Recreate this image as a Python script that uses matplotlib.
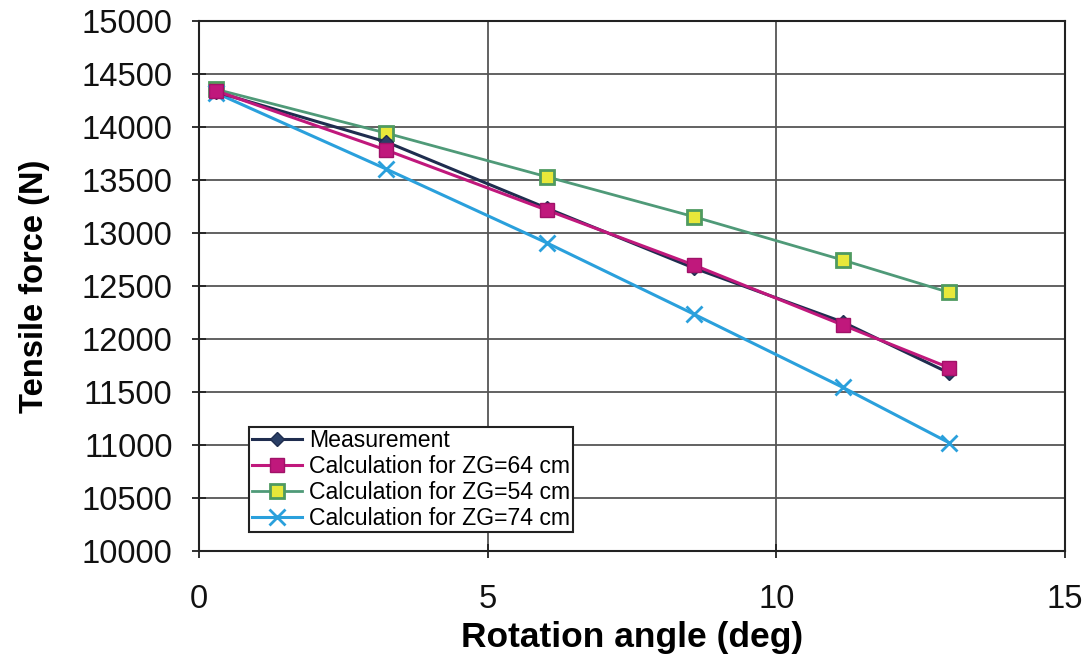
import matplotlib
matplotlib.use("Agg")
import matplotlib.pyplot as plt

# Rotation angle (deg) at each measuring step
angle = [0.30, 3.24, 6.02, 8.57, 11.15, 12.99]

# Tensile force (N)
measurement = [14330, 13860, 13235, 12670, 12160, 11680]
calc_zg64 = [14340, 13783, 13217, 12698, 12132, 11730]
calc_zg54 = [14355, 13943, 13531, 13154, 12745, 12440]
calc_zg74 = [14320, 13604, 12908, 12235, 11544, 11022]

x_ticks = [0, 5, 10, 15]
y_ticks = list(range(10000, 15001, 500))

plt.rcParams['font.family'] = ['Liberation Sans', 'DejaVu Sans']

fig = plt.figure(figsize=(10.88, 6.57), dpi=100)
ax = fig.add_axes([199 / 1088, 1 - 551 / 657, (1065 - 199) / 1088, (551 - 21) / 657])

ax.plot(angle, measurement, color='#1f2d4f', lw=2.2, marker='D', ms=7,
        mfc='#2a3f66', mec='#1f2d4f', label='Measurement', zorder=4)
ax.plot(angle, calc_zg64, color='#c0187c', lw=2.2, marker='s', ms=10,
        mfc='#c0187c', mec='#a01268', label='Calculation for ZG=64 cm', zorder=5)
ax.plot(angle, calc_zg54, color='#4f9a78', lw=2.0, marker='s', ms=10,
        mfc='#e8e83a', mec='#4f9a60', mew=2, label='Calculation for ZG=54 cm', zorder=3)
ax.plot(angle, calc_zg74, color='#2aa0dc', lw=2.2, marker='x', ms=12, mew=2,
        label='Calculation for ZG=74 cm', zorder=3)

ax.set_xlim(0, 15)
ax.set_ylim(10000, 15000)
ax.set_xticks(x_ticks)
ax.set_yticks(y_ticks)
ax.grid(True, color='#555555', lw=1.3)
ax.set_axisbelow(True)
for s in ax.spines.values():
    s.set_color('#222222')
    s.set_linewidth(1.5)

ax.tick_params(axis='both', labelsize=23.5, direction='inout', length=10,
               width=1.3, colors='#222222')
ax.tick_params(axis='x', pad=19)
ax.tick_params(axis='y', pad=14)
for lbl in ax.get_xticklabels() + ax.get_yticklabels():
    lbl.set_color('#111111')

ax.set_xlabel('Rotation angle (deg)', fontsize=25.5, fontweight='bold', labelpad=4)
ax.set_ylabel('Tensile force (N)', fontsize=23.5, fontweight='bold', labelpad=23)

leg = ax.legend(loc='lower left', bbox_to_anchor=(0.058, 0.036), fontsize=16.6,
                frameon=True, fancybox=False, framealpha=1, edgecolor='#222222',
                handlelength=2.2, handletextpad=0.3, borderpad=0.1,
                labelspacing=0.12, borderaxespad=0)
leg.get_frame().set_linewidth(1.5)

fig.savefig('out.png', dpi=100, facecolor='white')
